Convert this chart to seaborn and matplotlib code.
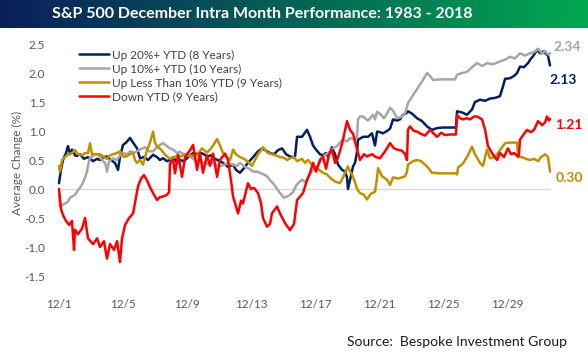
import numpy as np
import pandas as pd
import seaborn as sns
import matplotlib.pyplot as plt

# day of December (fractional = intraday), average % change
up20_day = [1.0,1.13,1.25,1.44,1.56,1.69,1.81,2.0,2.13,2.31,2.56,2.81,3.13,3.38,3.56,3.81,4.0,4.25,4.5,4.69,4.81,5.0,5.19,5.44,5.63,5.88,6.06,6.31,6.56,6.88,7.13,7.31,7.5,7.75,7.94,8.13,8.38,8.56,8.81,9.0,9.19,9.38,9.63,9.81,10.06,10.25,10.5,10.75,11.06,11.31,11.56,11.88,12.06,12.31,12.56,12.81,13.13,13.44,13.69,13.88,14.19,14.44,14.69,14.94,15.19,15.44,15.63,15.75,15.88,16.19,16.5,16.69,16.88,17.06,17.31,17.5,17.69,17.81,18.06,18.25,18.44,18.69,18.88,19.0,19.06,19.19,19.38,19.5,19.63,19.69,20.0,20.31,20.56,20.75,20.88,21.06,21.25,21.5,21.69,21.88,22.13,22.31,22.5,22.69,22.81,23.06,23.38,23.69,24.0,24.31,24.63,25.0,25.44,25.81,25.88,26.19,26.5,26.81,27.0,27.31,27.63,27.94,28.25,28.56,28.75,28.88,29.19,29.44,29.63,29.81,30.06,30.31,30.5,30.63,30.88,31.06,31.25,31.44,31.56,31.69]
up20_val = [0.1,0.35,0.5,0.62,0.74,0.6,0.68,0.58,0.57,0.6,0.52,0.55,0.48,0.52,0.5,0.55,0.56,0.5,0.45,0.33,0.55,0.76,0.8,0.88,0.8,0.7,0.53,0.55,0.5,0.59,0.55,0.5,0.53,0.48,0.5,0.55,0.45,0.5,0.48,0.53,0.58,0.62,0.6,0.63,0.6,0.56,0.58,0.52,0.48,0.44,0.38,0.42,0.33,0.28,0.36,0.45,0.55,0.65,0.7,0.67,0.62,0.6,0.67,0.7,0.6,0.56,0.55,0.56,0.9,0.9,1.02,0.9,0.75,0.68,0.6,0.58,0.62,0.56,0.72,0.6,0.42,0.33,0.3,0.2,0.0,0.16,0.39,0.45,0.65,0.85,0.9,0.9,0.96,0.75,0.99,0.98,0.96,1.0,1.04,1.2,1.18,1.2,1.28,1.3,1.34,1.3,1.22,1.17,1.08,1.02,1.05,1.06,1.06,1.06,1.34,1.32,1.28,1.37,1.5,1.54,1.52,1.56,1.57,1.6,1.77,1.9,1.91,1.95,2.0,2.11,2.1,2.17,2.25,2.29,2.4,2.34,2.37,2.33,2.3,2.13]

up10_day = [1.0,1.06,1.19,1.38,1.56,1.69,1.88,2.0,2.19,2.31,2.44,2.63,2.75,2.81,2.94,3.06,3.25,3.44,3.56,3.75,3.88,4.0,4.13,4.38,4.63,4.81,5.0,5.25,5.44,5.75,6.06,6.38,6.63,6.88,7.19,7.5,7.75,7.94,8.13,8.38,8.56,8.81,9.0,9.25,9.5,9.81,10.06,10.31,10.63,10.88,11.06,11.31,11.56,11.88,12.13,12.31,12.63,12.88,13.13,13.38,13.56,13.81,14.0,14.19,14.38,14.63,14.81,15.06,15.25,15.44,15.63,15.81,15.94,16.19,16.38,16.56,16.88,17.19,17.5,17.81,18.13,18.38,18.56,18.75,19.0,19.19,19.44,19.63,19.69,19.81,20.0,20.31,20.63,20.75,20.88,21.06,21.31,21.5,21.69,21.88,22.13,22.44,22.63,22.81,23.13,23.44,23.75,24.0,24.19,24.38,24.81,25.31,25.75,25.88,26.19,26.5,26.81,27.13,27.44,27.75,28.13,28.56,28.88,29.19,29.5,29.81,30.13,30.44,30.75,30.94,31.19,31.38,31.56,31.69]
up10_val = [-0.1,-0.3,-0.28,-0.25,-0.22,-0.15,-0.12,-0.1,-0.02,0.02,0.08,0.2,0.3,0.4,0.55,0.56,0.6,0.6,0.55,0.48,0.45,0.3,0.48,0.53,0.5,0.58,0.62,0.6,0.65,0.63,0.68,0.72,0.65,0.65,0.74,0.79,0.74,0.7,0.68,0.62,0.64,0.6,0.59,0.55,0.5,0.48,0.45,0.43,0.46,0.4,0.39,0.42,0.44,0.42,0.4,0.45,0.38,0.35,0.3,0.3,0.28,0.25,0.22,0.15,0.1,0.0,-0.07,-0.15,-0.13,-0.1,-0.05,0.05,0.1,0.16,0.12,0.2,0.33,0.4,0.56,0.62,0.7,0.74,0.8,0.85,0.82,0.88,0.85,0.9,1.2,1.25,1.25,1.18,1.28,1.2,1.33,1.3,1.22,1.3,1.4,1.35,1.22,1.25,1.3,1.48,1.62,1.75,1.88,2.0,1.95,1.88,1.89,1.89,1.89,1.97,2.0,2.02,2.1,2.17,2.12,2.17,2.15,2.2,2.23,2.28,2.25,2.34,2.3,2.34,2.37,2.42,2.33,2.38,2.32,2.34]

upless_day = [1.0,1.06,1.19,1.38,1.56,1.81,2.0,2.19,2.44,2.63,2.81,2.94,3.06,3.31,3.56,3.81,4.0,4.19,4.38,4.63,4.81,5.06,5.25,5.44,5.63,5.75,5.88,6.06,6.25,6.5,6.69,6.88,7.0,7.13,7.38,7.63,7.94,8.19,8.38,8.63,8.88,9.19,9.44,9.63,9.94,10.25,10.44,10.63,10.88,11.06,11.25,11.5,11.69,11.88,12.06,12.31,12.56,12.81,13.06,13.25,13.44,13.75,14.06,14.31,14.56,14.81,15.06,15.25,15.44,15.69,15.88,16.19,16.38,16.56,16.81,17.0,17.25,17.5,17.75,18.0,18.25,18.56,18.75,18.88,19.06,19.19,19.31,19.5,19.63,19.81,20.06,20.25,20.5,20.75,20.88,20.94,21.19,21.5,21.69,21.88,22.19,22.44,22.63,22.75,22.81,23.13,23.38,23.63,23.88,24.06,24.31,24.81,25.31,25.81,25.88,25.94,26.25,26.56,26.81,27.0,27.31,27.5,27.75,27.94,28.25,28.56,28.88,29.19,29.44,29.63,29.69,29.94,30.19,30.44,30.69,30.94,31.13,31.38,31.56,31.69]
upless_val = [0.4,0.3,0.5,0.55,0.6,0.62,0.67,0.6,0.58,0.62,0.62,0.79,0.6,0.6,0.6,0.55,0.52,0.58,0.6,0.62,0.65,0.55,0.57,0.6,0.62,0.5,0.45,0.5,0.42,0.67,0.8,0.99,0.8,0.73,0.68,0.59,0.52,0.55,0.57,0.56,0.6,0.58,0.57,0.58,0.7,0.63,0.68,0.75,0.86,0.75,0.62,0.55,0.5,0.68,0.6,0.55,0.52,0.47,0.4,0.5,0.6,0.72,0.62,0.6,0.58,0.55,0.54,0.5,0.53,0.55,0.48,0.52,0.45,0.5,0.42,0.38,0.33,0.28,0.25,0.18,0.13,0.1,0.2,0.28,0.39,0.3,0.25,0.12,0.0,-0.07,-0.1,-0.18,-0.08,-0.05,0.2,0.36,0.22,0.16,0.07,0.2,0.18,0.2,0.22,0.3,0.42,0.48,0.5,0.48,0.42,0.37,0.28,0.27,0.27,0.27,0.25,0.37,0.44,0.58,0.73,0.6,0.45,0.4,0.68,0.53,0.55,0.67,0.79,0.8,0.8,0.8,0.56,0.55,0.52,0.5,0.52,0.48,0.55,0.6,0.55,0.3]

down_day = [1.0,1.13,1.25,1.44,1.63,1.81,1.94,2.0,2.19,2.44,2.63,2.81,3.13,3.38,3.56,3.81,4.0,4.19,4.44,4.63,4.81,4.94,5.13,5.38,5.63,5.81,5.94,6.13,6.31,6.5,6.69,6.94,7.13,7.31,7.5,7.75,7.88,7.94,8.13,8.25,8.44,8.69,8.88,9.19,9.38,9.63,9.81,10.0,10.25,10.44,10.63,10.88,11.06,11.38,11.56,11.75,11.88,12.06,12.19,12.38,12.5,12.81,13.0,13.19,13.44,13.63,13.75,14.0,14.19,14.31,14.63,14.81,15.13,15.44,15.69,15.88,16.25,16.44,16.69,16.88,17.06,17.31,17.5,17.69,17.88,18.06,18.25,18.38,18.56,18.75,19.0,19.19,19.38,19.63,19.81,20.06,20.25,20.56,20.81,21.06,21.38,21.69,21.94,22.13,22.44,22.63,22.75,22.81,22.94,23.19,23.38,23.63,23.88,24.19,24.44,24.63,24.88,25.13,25.44,25.81,25.88,26.06,26.25,26.5,26.69,26.94,27.13,27.31,27.44,27.63,27.81,28.0,28.13,28.38,28.56,28.81,29.06,29.25,29.44,29.69,29.75,29.81,30.06,30.25,30.5,30.69,30.94,31.19,31.38,31.5,31.63,31.69]
down_val = [0.0,-0.35,-0.45,-0.55,-0.62,-0.55,-1.05,-0.7,-0.78,-0.68,-0.5,-0.85,-0.95,-0.85,-1.0,-0.9,-1.2,-0.95,-1.05,-0.9,-1.26,-0.85,-0.62,-0.5,-0.42,-0.15,0.05,0.18,0.24,0.15,0.03,-0.1,-0.19,-0.14,-0.13,-0.1,-0.05,0.44,0.5,0.27,0.59,0.21,0.55,0.67,0.76,0.33,0.62,0.28,0.58,0.4,0.61,0.21,0.5,0.61,0.5,0.15,-0.13,-0.3,-0.42,-0.2,-0.25,0.1,0.0,0.02,-0.07,-0.25,-0.5,-0.65,-0.6,-0.42,-0.3,-0.42,-0.59,-0.71,-0.6,-0.19,-0.07,0.1,0.28,0.45,0.3,0.5,0.56,0.35,0.6,0.68,0.45,0.5,0.65,0.85,1.17,1.02,0.95,0.68,0.5,0.6,0.56,0.6,0.55,0.53,0.65,0.79,0.7,0.68,0.66,0.6,0.5,1.02,1.08,1.0,0.99,0.95,0.92,1.02,0.95,0.9,0.97,0.93,0.94,0.94,1.28,1.22,1.2,1.22,1.2,1.25,1.25,1.22,1.2,1.02,0.74,0.65,0.59,0.5,0.62,0.55,0.7,0.6,0.62,0.56,0.6,0.85,0.95,1.02,0.98,1.02,1.17,1.1,1.15,1.25,1.18,1.21]

series_names = ["Up 20%+ YTD (8 Years)", "Up 10%+ YTD (10 Years)",
                "Up Less Than 10% YTD (9 Years)", "Down YTD (9 Years)"]
colors = ["#002060", "#a6a6a6", "#bf9000", "#ff0000"]
tick_days = [1, 5, 9, 13, 17, 21, 25, 29]
tick_labels = ["12/1", "12/5", "12/9", "12/13", "12/17", "12/21", "12/25", "12/29"]

frames = []
for name, d, v in zip(series_names, [up20_day, up10_day, upless_day, down_day],
                      [up20_val, up10_val, upless_val, down_val]):
    frames.append(pd.DataFrame({"day": d, "chg": v, "series": name}))
df = pd.concat(frames, ignore_index=True)

sns.set_style("white")
plt.rcParams["font.family"] = ["Lato", "DejaVu Sans"]

fig = plt.figure(figsize=(5.88, 3.59), dpi=100)

# title banner with gradient
bar = fig.add_axes([0, 1 - 28 / 359, 1, 28 / 359])
grad = np.linspace(0, 1, 256)
c0 = np.array([10, 30, 92]) / 255
c1 = np.array([0, 168, 80]) / 255
img = c0[None, :] * (1 - grad[:, None]) + c1[None, :] * grad[:, None]
bar.imshow(img[None, :, :], aspect="auto", extent=[0, 1, 0, 1])
bar.set_axis_off()
bar.text(0.446, 0.5, "S&P 500 December Intra Month Performance: 1983 - 2018",
         color="white", fontsize=11.5, fontweight="bold", ha="center", va="center")

ax = fig.add_axes([55 / 588, 74 / 359, 510 / 588, 245 / 359])
ax.hlines(0, min(up20_day), max(up20_day), color="#d9d9d9", lw=1, zorder=0)
sns.lineplot(data=df, x="day", y="chg", hue="series", hue_order=series_names,
             palette=dict(zip(series_names, colors)), sort=False, estimator=None,
             linewidth=1.8, ax=ax)

ax.set_xlim(0.75, 32.625)
ax.set_ylim(-1.655, 2.569)
ax.set_xticks(tick_days)
ax.set_xticklabels(tick_labels)
ax.set_yticks([-1.5, -1.0, -0.5, 0.0, 0.5, 1.0, 1.5, 2.0, 2.5])
ax.set_yticklabels(["-1.5", "-1.0", "-0.5", "0.0", "0.5", "1.0", "1.5", "2.0", "2.5"])
ax.tick_params(axis="both", length=0, labelsize=8.5, labelcolor="#595959")
ax.tick_params(axis="x", pad=10)
ax.tick_params(axis="y", pad=7)
ax.set_xlabel("")
ax.set_ylabel("Average Change (%)", fontsize=8.5, color="#595959", labelpad=1)
for s in ax.spines.values():
    s.set_visible(False)

handles, labels = ax.get_legend_handles_labels()
ax.legend(handles, labels, loc="upper left", bbox_to_anchor=(0.035, 0.985),
          frameon=False, fontsize=8.5, handlelength=2.6, handletextpad=0.2,
          labelspacing=0.25, borderpad=0, labelcolor="#404040")

# end labels
ends = [(up10_day, up10_val, colors[1], (3, 6)),
        (up20_day, up20_val, colors[0], (-1, -15)),
        (down_day, down_val, colors[3], (5, -6)),
        (upless_day, upless_val, colors[2], (6, -6))]
for d, v, c, off in ends:
    ax.annotate(f"{v[-1]:.2f}", (d[-1], v[-1]), xytext=off, textcoords="offset pixels",
                color=c, fontsize=10, fontweight="bold", ha="left", va="center",
                annotation_clip=False)

fig.text(567 / 588, 1 - 342 / 359, "Source:  Bespoke Investment Group",
         ha="right", va="center", fontsize=10, color="#1a1a1a")

fig.savefig("out.png", dpi=100)
